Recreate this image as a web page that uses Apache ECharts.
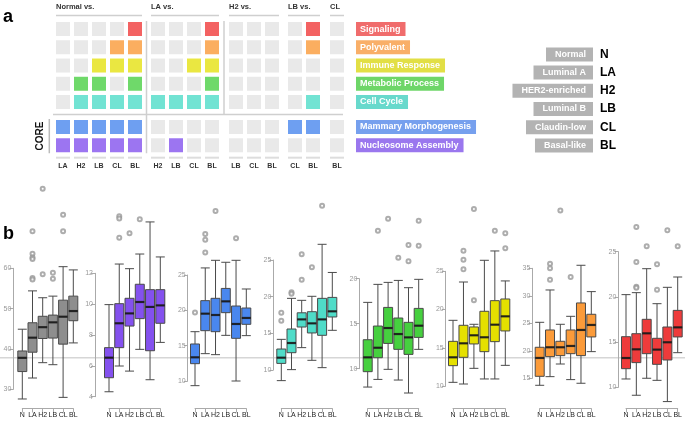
<!DOCTYPE html>
<html><head><meta charset="utf-8">
<script src="https://cdn.jsdelivr.net/npm/echarts@6/dist/echarts.min.js"></script>
<style>html,body{margin:0;padding:0;background:#fff}#c{width:685px;height:426px}</style>
</head><body><div id="c"></div>
<script>
// ---------------- DATA ----------------
const subtypes = ['N','LA','H2','LB','CL','BL'];
const subtypeNames = ['Normal','Luminal A','HER2-enriched','Luminal B','Claudin-low','Basal-like'];
const geneSets = ['Signaling','Polyvalent','Immune Response','Metabolic Process','Cell Cycle','Mammary Morphogenesis','Nucleosome Assembly'];
const groupHeaders = ['Normal vs.','LA vs.','H2 vs.','LB vs.','CL'];
const groupCols = [['LA','H2','LB','CL','BL'],['H2','LB','CL','BL'],['LB','CL','BL'],['CL','BL'],['BL']];
// 1 = significant; columns follow groupCols flattened
const sigSignaling  = [0,0,0,0,1, 0,0,0,1, 0,0,0, 0,1, 0];
const sigPolyvalent = [0,0,0,1,1, 0,0,0,1, 0,0,0, 0,1, 0];
const sigImmune     = [0,0,1,1,1, 0,0,1,1, 0,0,0, 0,0, 0];
const sigMetabolic  = [0,1,1,0,1, 0,0,0,1, 0,0,0, 0,0, 0];
const sigCellCycle  = [0,1,1,1,1, 1,1,1,1, 0,0,0, 0,1, 0];
const sigMammary    = [1,1,1,1,1, 0,0,0,0, 0,0,0, 1,1, 0];
const sigNucleosome = [1,1,1,1,1, 0,1,0,0, 0,0,0, 0,0, 0];
const sigMatrix = [sigSignaling, sigPolyvalent, sigImmune, sigMetabolic, sigCellCycle, sigMammary, sigNucleosome];

// panel y-axis tick labels: [min, max, step]
const ticksGray = [30, 60, 10];
const ticksPurple = [4, 12, 2];
const ticksBlue = [10, 25, 5];
const ticksCyan = [10, 25, 5];
const ticksGreen = [10, 20, 5];
const ticksYellow = [10, 25, 5];
const ticksOrange = [15, 35, 5];
const ticksRed = [10, 25, 5];

// box stats per subtype: [lower whisker, Q1, median, Q3, upper whisker]
const boxGray = [[27.6,34.4,37.8,39.5,44.9],[32.8,39.2,42.8,46.5,54.4],[36.6,42.6,45.4,48.1,52.7],[36.1,42.7,46.6,48.4,53.1],[28.0,41.2,48.0,52.1,60.4],[41.5,47.0,49.4,53.1,59.6]];
const outGray = [[1,69.2],[1,63.6],[1,62.7],[1,62.3],[1,57.6],[1,57.2],[2,79.7],[2,58.5],[3,58.9],[3,57.4],[4,73.3],[4,69.2]];
const boxPurple = [[4.32,5.23,6.53,7.18,9.97],[5.99,7.18,8.76,10.03,12.6],[5.66,8.58,9.4,10.38,12.3],[7.07,9.06,10.14,11.29,13.25],[5.1,6.98,9.82,10.94,15.33],[7.52,8.76,9.92,10.94,13.06]];
const outPurple = [[1,15.7],[1,15.55],[1,14.3],[2,14.6],[3,15.5]];
const boxBlue = [[9.34,12.45,13.35,15.24,16.98],[13.87,17.12,19.53,21.37,26.0],[13.73,16.98,19.34,21.7,27.08],[16.46,19.67,21.27,23.1,26.8],[10.0,16.04,18.07,20.61,27.08],[16.42,18.02,18.92,20.33,23.02]];
const outBlue = [[0,19.7],[1,30.8],[1,30.0],[1,28.2],[2,34.06],[4,30.2]];
const boxCyan = [[8.55,10.9,11.68,12.86,14.18],[10.05,12.36,13.68,15.59,19.77],[13.05,15.86,16.9,17.8,19.5],[11.32,15.05,16.36,17.95,20.05],[10.32,14.73,16.9,19.77,27.14],[15.41,17.23,18.0,19.9,23.3]];
const outCyan = [[0,17.8],[0,16.7],[1,20.6],[1,20.4],[2,25.8],[2,22.3],[3,24.0],[4,32.4]];
const boxGreen = [[7.96,9.67,11.26,13.22,17.37],[8.81,11.22,12.33,14.74,19.37],[9.93,12.81,14.52,16.81,19.59],[8.74,12.15,13.85,15.63,19.81],[7.3,11.59,13.48,15.15,19.0],[12.15,13.48,14.78,16.7,19.93]];
const outGreen = [[1,25.33],[2,26.67],[3,22.33],[4,23.74],[4,21.93],[5,26.44],[5,23.67]];
const boxYellow = [[10.48,12.66,13.75,15.84,18.59],[10.26,13.75,15.58,17.94,23.6],[12.31,15.5,16.63,17.72,18.07],[10.92,14.49,16.37,19.77,26.44],[10.92,15.8,18.02,21.16,27.66],[12.7,17.2,19.11,21.38,23.74]];
const outYellow = [[1,27.7],[1,26.5],[1,25.26],[2,33.16],[2,21.2],[4,30.3],[5,29.97],[5,28.0]];
const boxOrange = [[13.73,15.36,18.7,20.64,25.18],[15.3,18.94,20.64,23.79,31.06],[17.6,19.12,20.64,21.73,24.82],[14.76,19.48,20.88,23.79,26.27],[14.1,19.12,23.79,28.7,35.55],[19.85,22.52,24.7,26.64,30.76]];
const outOrange = [[1,35.85],[1,35.0],[1,32.94],[2,45.5],[3,33.42]];
const boxRed = [[10.92,12.06,13.24,15.6,20.25],[9.12,12.73,14.2,15.93,20.47],[11.0,13.72,15.97,17.52,23.12],[10.77,12.54,14.17,15.42,19.25],[8.42,13.02,14.98,16.67,21.06],[13.83,15.57,16.63,18.51,22.2]];
const outRed = [[1,27.73],[1,23.86],[1,21.13],[1,21.02],[2,25.6],[3,23.6],[3,20.8],[4,27.36],[5,25.6]];

// ---------------- STYLE / LAYOUT ----------------
const FONT = 'Liberation Sans, Arial, sans-serif';
const setColors = ['#f03b3b','#fa9a38','#e5e112','#4bd045','#4fdcc8','#4a87ee','#8352ee'];
const setLabelColors = ['#f06c6c','#f9af68','#e2df45','#6ed668','#68d9cc','#76a0ee','#9a77ee'];
const panelColors = ['#8e8e8e','#8451ee','#4a87ee','#4fdcc8','#46d03f','#e5e000','#fb9b3a','#ee3b3b'];
const panelBoxes = [boxGray, boxPurple, boxBlue, boxCyan, boxGreen, boxYellow, boxOrange, boxRed];
const panelOut = [outGray, outPurple, outBlue, outCyan, outGreen, outYellow, outOrange, outRed];
const panelTicks = [ticksGray, ticksPurple, ticksBlue, ticksCyan, ticksGreen, ticksYellow, ticksOrange, ticksRed];
// [axis x, first box x, last box x, y px of max tick, y px of min tick]
const panelLayout = [
  [13.3, 22.3, 73.3, 268.3, 389.3],
  [95.0, 109.0, 160.3, 273.3, 396.7],
  [187.7, 195.0, 246.3, 275.0, 381.0],
  [273.3, 281.3, 332.3, 260.0, 370.0],
  [359.3, 367.7, 418.7, 278.7, 368.7],
  [445.7, 453.0, 505.3, 271.3, 386.0],
  [532.3, 539.7, 591.3, 268.3, 378.3],
  [618.3, 626.0, 677.7, 251.7, 387.3]
];
const xAxisLineY = 408.5;
const hmLeft = [54, 149, 227, 286, 328];
const hmTop = 19.9, hmHeight = 140.5, hmPitch = 18;
const rowPos = i => i + (i >= 5 ? 0.37 : 0);

// ---------------- OPTION ----------------
const grids = [], xAxes = [], yAxes = [], series = [];
let colOffset = 0;
groupCols.forEach((cols, g) => {
  grids.push({left: hmLeft[g], top: hmTop, width: cols.length * hmPitch, height: hmHeight});
  xAxes.push({type: 'category', gridIndex: g, data: cols, boundaryGap: true,
    axisLine: {show: false}, axisTick: {show: false}, splitLine: {show: false},
    axisLabel: {interval: 0, margin: 2, fontSize: 7, fontWeight: 'bold', color: '#333', fontFamily: FONT}});
  yAxes.push({type: 'value', gridIndex: g, inverse: true, min: -0.5, max: 7.2, show: false});
  const cells = [];
  geneSets.forEach((s, r) => {
    cols.forEach((c, ci) => {
      const on = sigMatrix[r][colOffset + ci] === 1;
      cells.push({value: [ci, rowPos(r)], itemStyle: {color: on ? setColors[r] : '#e4e4e4'}});
    });
  });
  series.push({type: 'scatter', xAxisIndex: g, yAxisIndex: g, symbol: 'rect', symbolSize: 14,
    data: cells, silent: true, animation: false});
  series.push({type: 'scatter', xAxisIndex: g, yAxisIndex: g, symbol: 'rect', symbolSize: [14, 2],
    data: cols.map((c, ci) => [ci, 7.05]), itemStyle: {color: '#d4d4d4'}, silent: true, animation: false});
  colOffset += cols.length;
});

panelBoxes.forEach((boxes, p) => {
  const gi = 5 + p;
  const L = panelLayout[p];
  const t = panelTicks[p];
  grids.push({left: L[1], top: L[3], width: L[2] - L[1], height: L[4] - L[3]});
  xAxes.push({type: 'category', gridIndex: gi, data: subtypes, boundaryGap: false,
    offset: xAxisLineY - L[4],
    axisLine: {lineStyle: {color: '#aaa', width: 1}},
    axisTick: {alignWithLabel: true, length: 4, lineStyle: {color: '#aaa'}},
    splitLine: {show: false},
    axisLabel: {interval: 0, margin: 3, fontSize: 7, color: '#222', fontFamily: FONT}});
  yAxes.push({type: 'value', gridIndex: gi, min: t[0], max: t[1], interval: t[2],
    offset: L[1] - L[0],
    axisLine: {show: true, lineStyle: {color: '#aaa', width: 1}},
    axisTick: {show: true, length: 4, lineStyle: {color: '#aaa'}},
    splitLine: {show: false},
    axisLabel: {margin: 2, fontSize: 7, color: '#999', fontFamily: FONT}});
  series.push({type: 'boxplot', xAxisIndex: gi, yAxisIndex: gi, data: boxes, boxWidth: [9, 9],
    itemStyle: {color: panelColors[p], borderColor: '#4a4a4a', borderWidth: 1},
    emphasis: {disabled: true}, silent: true, animation: false, z: 3});
  series.push({type: 'scatter', xAxisIndex: gi, yAxisIndex: gi, clip: false, symbol: 'rect',
    symbolSize: [9, 2.2], data: boxes.map((b, i) => [i, b[2]]), itemStyle: {color: '#111'},
    silent: true, animation: false, z: 4});
  series.push({type: 'scatter', xAxisIndex: gi, yAxisIndex: gi, clip: false, symbol: 'emptyCircle',
    symbolSize: 4, data: panelOut[p], itemStyle: {color: '#999', borderWidth: 0.8},
    silent: true, animation: false, z: 4});
});

const chart = echarts.init(document.getElementById('c'), null, {renderer: 'canvas'});
chart.setOption({backgroundColor: '#fff', animation: false, grid: grids, xAxis: xAxes, yAxis: yAxes, series: series});

// ---------------- DECORATION ----------------
const gfx = [];
const rowY = r => chart.convertToPixel({yAxisIndex: 0}, rowPos(r));
gfx.push({type: 'text', x: 3, y: 17, style: {text: 'a', font: 'bold 18px ' + FONT, fill: '#000', verticalAlign: 'middle'}});
gfx.push({type: 'text', x: 3, y: 234, style: {text: 'b', font: 'bold 18px ' + FONT, fill: '#000', verticalAlign: 'middle'}});
groupHeaders.forEach((h, g) => {
  const w = groupCols[g].length * hmPitch;
  gfx.push({type: 'text', x: hmLeft[g] + 2, y: 7, style: {text: h, font: 'bold 7.5px ' + FONT, fill: '#333', verticalAlign: 'middle'}});
  gfx.push({type: 'line', shape: {x1: hmLeft[g] + 2, y1: 15.5, x2: hmLeft[g] + w - 2, y2: 15.5}, style: {stroke: '#cfcfcf', lineWidth: 1.5}});
});
const sep1 = (hmLeft[0] + groupCols[0].length * hmPitch + hmLeft[1]) / 2;
const sep2 = (hmLeft[1] + groupCols[1].length * hmPitch + hmLeft[2]) / 2;
const hLineY = (rowY(4) + rowY(5)) / 2;
gfx.push({type: 'line', shape: {x1: sep1, y1: rowY(0) - 8, x2: sep1, y2: rowY(6) + 8}, style: {stroke: '#cfcfcf', lineWidth: 1.5}});
gfx.push({type: 'line', shape: {x1: sep2, y1: rowY(0) - 8, x2: sep2, y2: hLineY}, style: {stroke: '#cfcfcf', lineWidth: 1.5}});
gfx.push({type: 'line', shape: {x1: 53, y1: hLineY, x2: 343, y2: hLineY}, style: {stroke: '#cfcfcf', lineWidth: 1.5}});
gfx.push({type: 'line', shape: {x1: 49.3, y1: rowY(5) - 8, x2: 49.3, y2: rowY(6) + 8}, style: {stroke: '#bbb', lineWidth: 1.5}});
gfx.push({type: 'text', x: 40, y: (rowY(5) + rowY(6)) / 2, rotation: Math.PI / 2,
  style: {text: 'CORE', font: 'bold 10px ' + FONT, fill: '#111', align: 'center', verticalAlign: 'middle'}});
geneSets.forEach((s, r) => {
  gfx.push({type: 'text', x: 356, y: rowY(r), style: {text: s, font: 'bold 9px ' + FONT, fill: '#fff',
    verticalAlign: 'middle', backgroundColor: setLabelColors[r], padding: [3, 5, 2, 4]}});
});
subtypeNames.forEach((s, i) => {
  const y = 54.4 + i * 18.2;
  gfx.push({type: 'text', x: 593, y: y, style: {text: s, font: 'bold 9px ' + FONT, fill: '#fff',
    align: 'right', verticalAlign: 'middle', backgroundColor: '#b3b3b3', padding: [3, 7, 2, 9]}});
  gfx.push({type: 'text', x: 600, y: y, style: {text: subtypes[i], font: 'bold 12px ' + FONT, fill: '#000', verticalAlign: 'middle'}});
});
const refY = chart.convertToPixel({yAxisIndex: 5}, boxGray[0][2]);
gfx.push({type: 'line', z: -1, shape: {x1: 0, y1: refY, x2: 685, y2: refY}, style: {stroke: '#d6d6d6', lineWidth: 1.5}});
chart.setOption({graphic: {elements: gfx}});
</script></body></html>
